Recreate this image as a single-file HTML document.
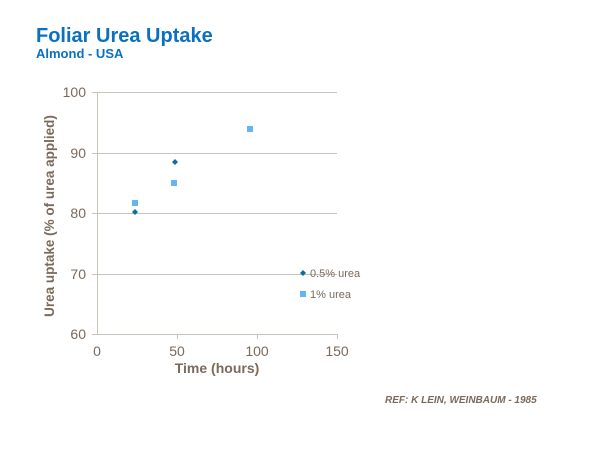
<!DOCTYPE html>
<html><head><style>
body{margin:0;background:#fff;width:600px;height:450px;overflow:hidden;font-family:"Liberation Sans",sans-serif}
</style></head><body>
<svg width="600" height="450" xmlns="http://www.w3.org/2000/svg" font-family="Liberation Sans, sans-serif">
<text x="36" y="42" font-size="20" font-weight="bold" fill="#0a70c0">Foliar Urea Uptake</text>
<text x="36" y="58" font-size="13" font-weight="bold" fill="#0a70c0">Almond - USA</text>
<g stroke="#c8c4bc" stroke-width="1">
<line x1="92" y1="92.5" x2="337" y2="92.5"/>
<line x1="92" y1="153.5" x2="337" y2="153.5"/>
<line x1="92" y1="213.5" x2="337" y2="213.5"/>
<line x1="92" y1="274.5" x2="337" y2="274.5"/>
<line x1="92" y1="334.5" x2="337" y2="334.5"/>
<line x1="97.5" y1="92" x2="97.5" y2="334"/>
<line x1="177.5" y1="334" x2="177.5" y2="339"/>
<line x1="257.5" y1="334" x2="257.5" y2="339"/>
<line x1="337.5" y1="334" x2="337.5" y2="339"/>
</g>
<g font-size="14" fill="#7a6a5a" text-anchor="end">
<text x="86" y="97">100</text><text x="86" y="158">90</text><text x="86" y="218">80</text><text x="86" y="279">70</text><text x="86" y="339">60</text>
</g>
<g font-size="14" fill="#7a6a5a" text-anchor="middle">
<text x="97" y="356">0</text><text x="177" y="356">50</text><text x="257" y="356">100</text><text x="337" y="356">150</text>
</g>
<text x="217" y="373" font-size="14" font-weight="bold" fill="#7a6a5a" text-anchor="middle">Time (hours)</text>
<text transform="translate(54,216) rotate(-90)" font-size="13.5" font-weight="bold" fill="#7a6a5a" text-anchor="middle">Urea uptake  (% of urea applied)</text>
<g fill="#63b6f2">
<rect x="132" y="200" width="6" height="6"/><rect x="171" y="180" width="6" height="6"/><rect x="247" y="126" width="6" height="6"/>
<rect x="300" y="291" width="6" height="6"/>
</g>
<g fill="#0d6e9e">
<path d="M135 209l3 3-3 3-3-3z"/><path d="M175 159l3 3-3 3-3-3z"/><path d="M303 270l3 3-3 3-3-3z"/>
</g>
<text x="310" y="277" font-size="11" fill="#7a6a5a">0.5% urea</text>
<text x="310" y="298" font-size="11" fill="#7a6a5a">1% urea</text>
<text x="385" y="403" font-size="10" font-weight="bold" font-style="italic" fill="#7a6a5a">REF:  K LEIN, WEINBAUM - 1985</text>
</svg>
</body></html>
